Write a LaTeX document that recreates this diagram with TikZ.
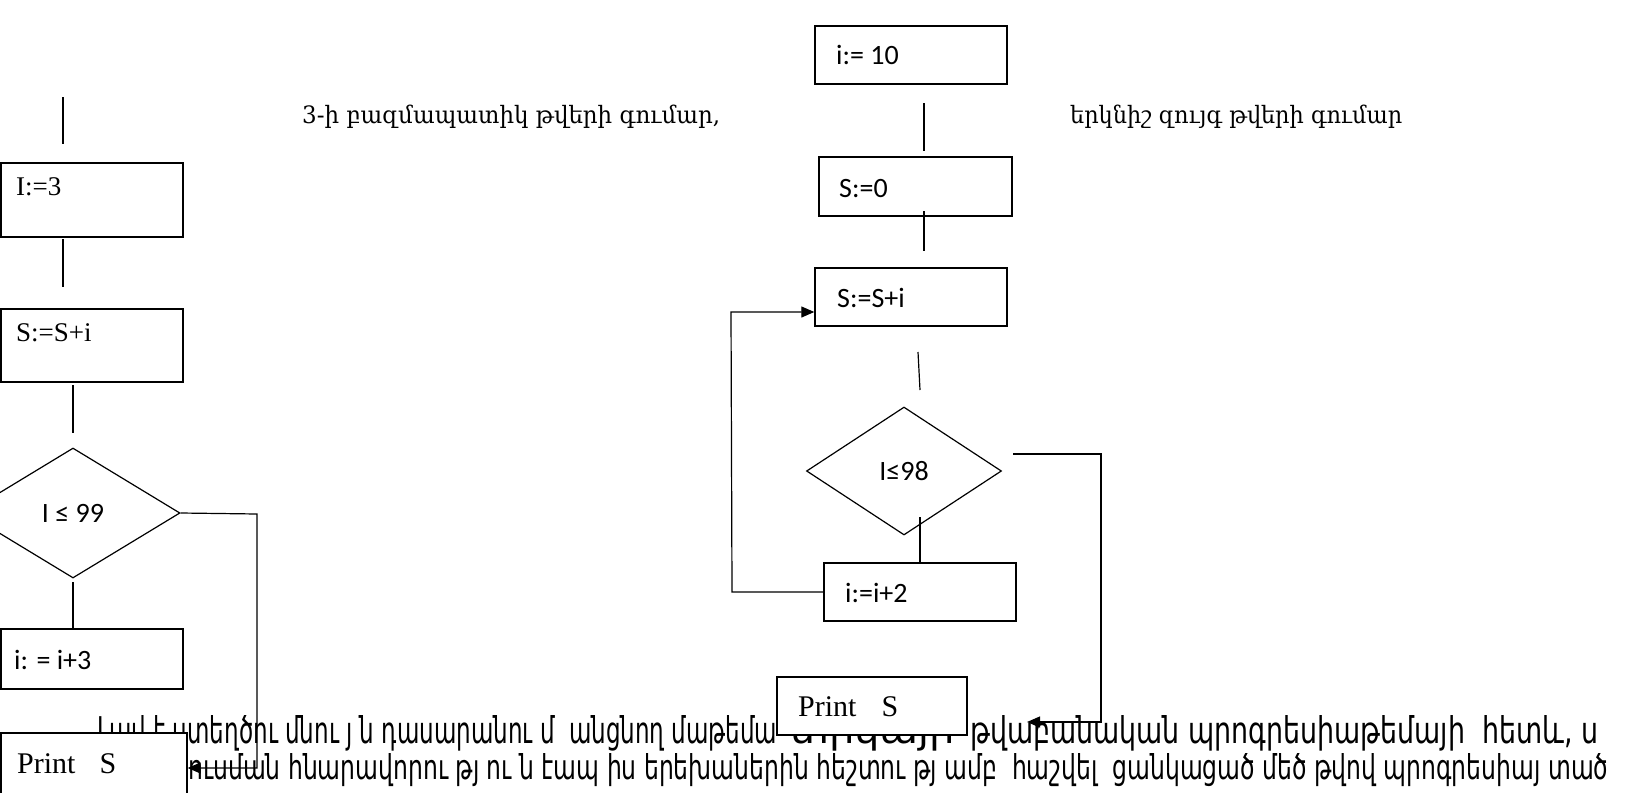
\documentclass[tikz,border=0pt]{standalone}
\usepackage{fontspec}
\usepackage{graphicx}
\setmainfont{Liberation Serif}
\newfontfamily\carl{Carlito}
\newfontfamily\armserif{DejaVu Serif}
\newfontfamily\armsans{DejaVu Sans}
\usetikzlibrary{shapes.geometric,arrows.meta}
\tikzset{
  box/.style={draw, rectangle, line width=1.4pt, fill=white, inner sep=0pt},
  flowline/.style={line width=1.2pt},
  arr/.style={line width=1.2pt, -{Triangle[length=13pt,width=11pt]}},
  dia/.style={draw, diamond, line width=1.2pt, inner sep=0pt, font=\carl\fontsize{28}{34}\selectfont},
  tms/.style={font=\fontsize{27}{32}\selectfont, inner sep=0pt, anchor=base west},
  prt/.style={font=\fontsize{30}{36}\selectfont, inner sep=0pt, anchor=base west},
  cal/.style={font=\carl\fontsize{28}{34}\selectfont, inner sep=0pt, anchor=base west},
  head/.style={font=\armserif, inner sep=0pt, anchor=base west},
  body/.style={font=\armsans, inner sep=0pt, anchor=base west},
}
\begin{document}
\begin{tikzpicture}[x=1pt,y=-1pt]
\fill[white] (0,0) rectangle (1632,792);
\useasboundingbox (0,0) rectangle (1632,792);

% headings
\node[head] (h1) at (302,123) {\resizebox{418pt}{18.5pt}{3-ի բազմապատիկ թվերի գումար,}};
\node[head] (h2) at (1070,123) {\resizebox{332pt}{18.5pt}{երկնիշ զույգ թվերի գումար}};

% bottom text (drawn first, partly covered by the Print boxes)
\node[body] (t1a) at (97,743) {\resizebox{680pt}{28pt}{Լավ է ստեղծու մնու յ ն դասարանու մ\ \ անցնող մաթեմա}};
\node[body] (t1h) at (790,743) {\resizebox{165pt}{28pt}{տիկայի}};
\node[body] (t1b) at (970,743) {\resizebox{628pt}{28pt}{թվաբանական պրոգրեսիաթեմայի\ \ հետև, ս}};
\node[body] (t2) at (188,779) {\resizebox{1420pt}{26pt}{ուսման հնարավորու թյ ու ն էապ իս երեխաներին հեշտու թյ ամբ\ \ հաշվել\ \ ցանկացած մեծ թվով պրոգրեսիայ տած}};

% ---- left flowchart ----
\node[box, minimum width=182pt, minimum height=74pt] (b1) at (92,200) {};
\node[box, minimum width=182pt, minimum height=73pt] (b2) at (92,345.5) {};
\node[dia, minimum width=214pt, minimum height=130pt] (d1) at (73,513) {I ≤ 99};
\node[box, minimum width=182pt, minimum height=60pt] (b3) at (92,659) {};
\node[box, minimum width=186pt, minimum height=77pt] (b4) at (94,771.5) {};

\node[tms] (l1) at (16,195) {I:=3};
\node[tms] (l2) at (16,341) {S:=S+i};
\node[cal] (l3) at (14,669) {i: = i+3};
\node[prt] (l4) at (17,773) {Print\hspace{24pt}S};

\coordinate (s0a) at (63,97);  \coordinate (s0b) at (63,144);
\coordinate (s1a) at (63,239); \coordinate (s1b) at (63,287);
\coordinate (s2a) at (73,385); \coordinate (s2b) at (73,433);
\coordinate (s3a) at (73,582);
\coordinate (lk1) at (257,514); \coordinate (lk2) at (257,768);
\draw[flowline] (s0a) -- (s0b);
\draw[flowline] (s1a) -- (s1b);
\draw[flowline] (s2a) -- (s2b);
\draw[flowline] (s3a) -- (s3a |- b3.north);
\draw[arr] (d1.east) -- (lk1) -- (lk2) -- (b4.east |- lk2);

% ---- right flowchart ----
\node[box, minimum width=192pt, minimum height=58pt] (r1) at (911,55) {};
\node[box, minimum width=193pt, minimum height=59pt] (r2) at (915.5,186.5) {};
\node[box, minimum width=192pt, minimum height=58pt] (r3) at (911,297) {};
\node[dia, minimum width=195pt, minimum height=128pt] (d2) at (904,471) {I≤98};
\node[box, minimum width=192pt, minimum height=58pt] (r4) at (920,592) {};
\node[box, minimum width=190pt, minimum height=58pt] (r5) at (872,706) {};

\node[cal] (m1) at (836,65) {i:= 10};
\node[cal] (m2) at (839,197) {S:=0};
\node[cal] (m3) at (837,307) {S:=S+i};
\node[cal] (m4) at (845,602) {i:=i+2};
\node[prt] (m5) at (798,716) {Print\hspace{25pt}S};

\coordinate (q1a) at (924,103); \coordinate (q1b) at (924,151);
\coordinate (q2a) at (924,211); \coordinate (q2b) at (924,251);
\coordinate (q3a) at (918,352); \coordinate (q3b) at (920,390);
\coordinate (q4a) at (920,517);
\coordinate (lp1) at (732,594); \coordinate (lp2) at (731,312);
\coordinate (rp0) at (1013,454); \coordinate (rp1) at (1101,454);
\coordinate (rp2) at (1101,722); \coordinate (rp3) at (1027,722);
\draw[flowline] (q1a) -- (q1b);
\draw[flowline] (q2a) -- (q2b);
\draw[flowline] (q3a) -- (q3b);
\draw[flowline] (q4a) -- (r4.north);
\draw[arr] (r4.west) -- (lp1 |- r4.west) -- (lp2) -- (r3.west |- lp2);
\draw[arr] (rp0) -- (rp1) -- (rp2) -- (rp3);
\end{tikzpicture}
\end{document}
